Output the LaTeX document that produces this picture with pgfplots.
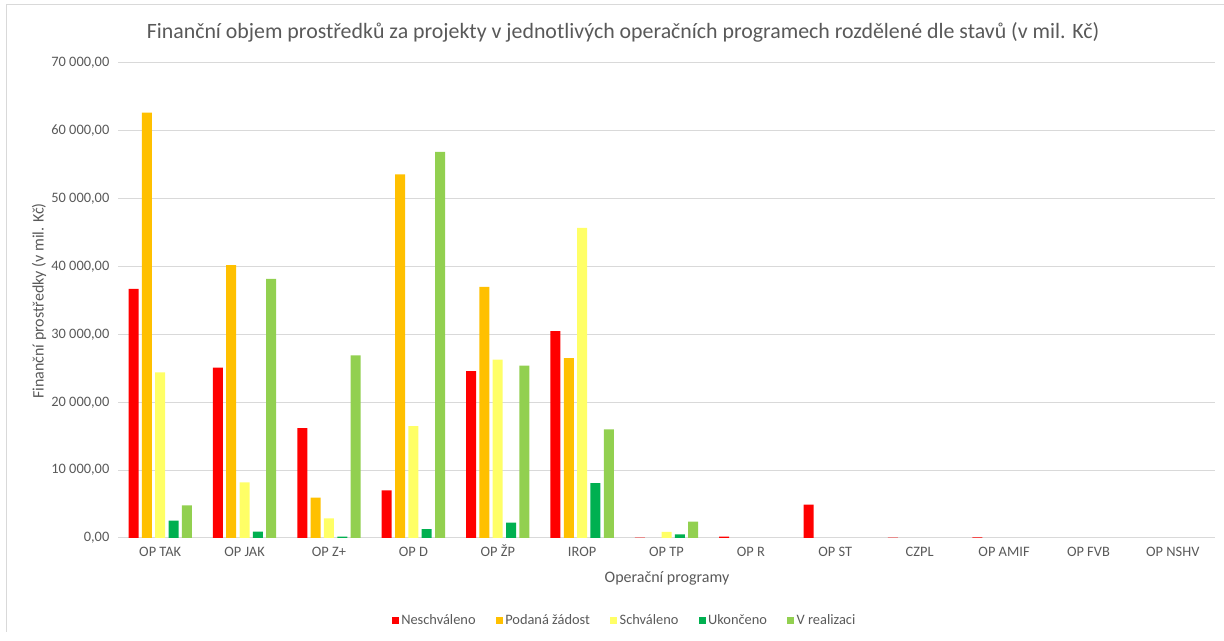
\documentclass[border=0pt]{standalone}
\usepackage{fontspec}
\setmainfont{Carlito}
\usepackage{pgfplots}
\pgfplotsset{compat=1.18}
\definecolor{cRed}{HTML}{FF0000}
\definecolor{cOrange}{HTML}{FFC000}
\definecolor{cYellow}{HTML}{FFFF66}
\definecolor{cDkGreen}{HTML}{00B050}
\definecolor{cLtGreen}{HTML}{92D050}
\definecolor{txt}{HTML}{595959}
\definecolor{gridc}{HTML}{D9D9D9}
\begin{document}
\begin{tikzpicture}[x=1pt,y=1pt]
\useasboundingbox (0,0) rectangle (918,480.75);
\draw[gridc, line width=0.75pt] (4.5,6.75) -- (4.5,477) -- (918,477);
\node[font=\fontsize{16.4}{20}\selectfont, text=txt] at (467.25,456.75)
  {Finanční objem prostředků za projekty v jednotlivých operačních programech rozdělené dle stavů (v mil. Kč)};
\node[rotate=90, font=\fontsize{12}{14}\selectfont, text=txt] at (29.25,255)
  {Finanční prostředky (v mil. Kč)};
\node[font=\fontsize{12}{14}\selectfont, text=txt] at (500.25,47.25) {Operační programy};
\begin{axis}[
  at={(88.5pt,77.25pt)}, anchor=south west,
  scale only axis, width=822.75pt, height=356.25pt,
  ybar, bar width=7.5pt, ybar=2.5pt,
  xmin=-0.5, xmax=12.5, ymin=0, ymax=70000,
  scaled y ticks=false,
  xtick={0,...,12},
  xticklabels={OP TAK, OP JAK, OP Z+, OP D, OP ŽP, IROP, OP TP, OP R, OP ST, CZPL, OP AMIF, OP FVB, OP NSHV},
  ytick={0,10000,20000,30000,40000,50000,60000,70000},
  yticklabels={{0,00},{10 000,00},{20 000,00},{30 000,00},{40 000,00},{50 000,00},{60 000,00},{70 000,00}},
  axis line style={draw=none},
  major tick length=0pt,
  ymajorgrids, grid style={gridc, line width=0.75pt},
  tick label style={font=\fontsize{10.8}{13}\selectfont, text=txt},
  xticklabel style={yshift=-3pt, text height=1.6ex, text depth=0.3ex},
  yticklabel style={xshift=-3pt},
  legend columns=5,
  legend style={at={(0.462,-0.173)}, anchor=center, draw=none, fill=none,
    font=\fontsize{10.8}{13}\selectfont, text=txt,
    /tikz/every even column/.append style={column sep=13pt}},
  legend image code/.code={\fill[#1] (0pt,-2.6pt) rectangle (5.25pt,2.65pt);},
]
\addplot[fill=cRed, draw=none] coordinates {(0,36700) (1,25100) (2,16200) (3,7000) (4,24600) (5,30500) (6,50) (7,200) (8,4900) (9,50) (10,100)};
\addplot[fill=cOrange, draw=none] coordinates {(0,62700) (1,40200) (2,5950) (3,53600) (4,37000) (5,26500)};
\addplot[fill=cYellow, draw=none] coordinates {(0,24400) (1,8200) (2,2900) (3,16500) (4,26300) (5,45700) (6,900)};
\addplot[fill=cDkGreen, draw=none] coordinates {(0,2560) (1,930) (2,200) (3,1300) (4,2260) (5,8070) (6,550)};
\addplot[fill=cLtGreen, draw=none] coordinates {(0,4800) (1,38200) (2,26900) (3,56900) (4,25400) (5,16000) (6,2400)};
\legend{Neschváleno, Podaná žádost, Schváleno, Ukončeno, V realizaci}
\end{axis}
\end{tikzpicture}
\end{document}
